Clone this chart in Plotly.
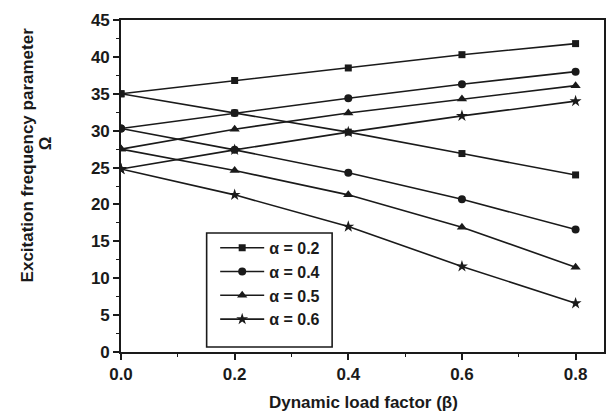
import plotly.graph_objects as go

beta = [0.0, 0.2, 0.4, 0.6, 0.8]

alpha_labels = ["α = 0.2", "α = 0.4", "α = 0.5", "α = 0.6"]
upper_02 = [35.0, 36.8, 38.5, 40.3, 41.8]
lower_02 = [35.0, 32.4, 29.8, 26.9, 24.0]
upper_04 = [30.3, 32.4, 34.4, 36.3, 38.0]
lower_04 = [30.3, 27.4, 24.3, 20.7, 16.6]
upper_05 = [27.5, 30.2, 32.4, 34.3, 36.1]
lower_05 = [27.5, 24.6, 21.3, 16.9, 11.5]
upper_06 = [24.8, 27.4, 29.8, 32.0, 34.0]
lower_06 = [24.8, 21.3, 17.0, 11.6, 6.6]

uppers = [upper_02, upper_04, upper_05, upper_06]
lowers = [lower_02, lower_04, lower_05, lower_06]
symbols = ["square", "circle", "triangle-up", "star"]
sizes = [7, 8, 9, 9]

FONT = "Liberation Sans, Arial, sans-serif"
INK = "#1a1a1a"

fig = go.Figure()
for lab, up, sym, sz in zip(alpha_labels, uppers, symbols, sizes):
    fig.add_trace(go.Scatter(
        x=beta, y=up, mode="lines+markers", name=lab, legendgroup=lab,
        showlegend=False,
        line=dict(color=INK, width=1.6),
        marker=dict(symbol=sym, size=sz, color=INK),
    ))
for lab, lo, sym, sz in zip(alpha_labels, lowers, symbols, sizes):
    fig.add_trace(go.Scatter(
        x=beta, y=lo, mode="lines+markers", name=lab, legendgroup=lab,
        showlegend=True,
        line=dict(color=INK, width=1.6),
        marker=dict(symbol=sym, size=sz, color=INK),
    ))

fig.update_layout(
    width=608, height=416,
    margin=dict(l=121, r=2, t=20, b=64),
    paper_bgcolor="white", plot_bgcolor="white",
    font=dict(family=FONT, color=INK),
    showlegend=True,
    legend=dict(
        x=0.195, y=0.365, xanchor="left", yanchor="top",
        bgcolor="rgba(0,0,0,0)", borderwidth=0,
        font=dict(size=16, family=FONT, color=INK, weight="bold"),
        tracegroupgap=0, itemwidth=44,
    ),
    xaxis=dict(
        range=[0, 0.85], tickvals=[0.0, 0.2, 0.4, 0.6, 0.8],
        ticktext=["0.0", "0.2", "0.4", "0.6", "0.8"],
        showgrid=False, zeroline=False,
        showline=True, linecolor=INK, linewidth=1.6, mirror=True,
        ticks="outside", ticklen=6, tickwidth=1.5, tickcolor=INK,
        minor=dict(dtick=0.1, ticks="outside", ticklen=3, tickwidth=1.3, tickcolor=INK),
        tickfont=dict(size=17, family=FONT, color=INK, weight="bold"),
    ),
    yaxis=dict(
        range=[0, 45], tickvals=[0, 5, 10, 15, 20, 25, 30, 35, 40, 45],
        showgrid=False, zeroline=False,
        showline=True, linecolor=INK, linewidth=1.6, mirror=True,
        ticks="outside", ticklen=6, tickwidth=1.5, tickcolor=INK,
        minor=dict(dtick=2.5, ticks="outside", ticklen=3, tickwidth=1.3, tickcolor=INK),
        tickfont=dict(size=17, family=FONT, color=INK, weight="bold"),
    ),
    shapes=[dict(
        type="rect", xref="paper", yref="paper",
        x0=(207 - 121) / 485, x1=(333 - 121) / 485,
        y0=(352 - 347) / 332, y1=(352 - 233) / 332,
        line=dict(color=INK, width=1.6), fillcolor="white", layer="below",
    )],
    annotations=[
        dict(text="Excitation frequency parameter", textangle=-90,
             xref="paper", yref="paper", x=(28 - 121) / 485, y=(352 - 155) / 332,
             showarrow=False, xanchor="center", yanchor="middle",
             font=dict(size=17, family=FONT, color=INK, weight="bold")),
        dict(text="Ω", textangle=-90,
             xref="paper", yref="paper", x=(45 - 121) / 485, y=(352 - 143) / 332,
             showarrow=False, xanchor="center", yanchor="middle",
             font=dict(size=17, family=FONT, color=INK, weight="bold")),
        dict(text="Dynamic load factor (β)",
             xref="paper", yref="paper", x=(365 - 121) / 485, y=(352 - 402) / 332,
             showarrow=False, xanchor="center", yanchor="middle",
             font=dict(size=17, family=FONT, color=INK, weight="bold")),
    ],
)

fig.write_html("out.html")
